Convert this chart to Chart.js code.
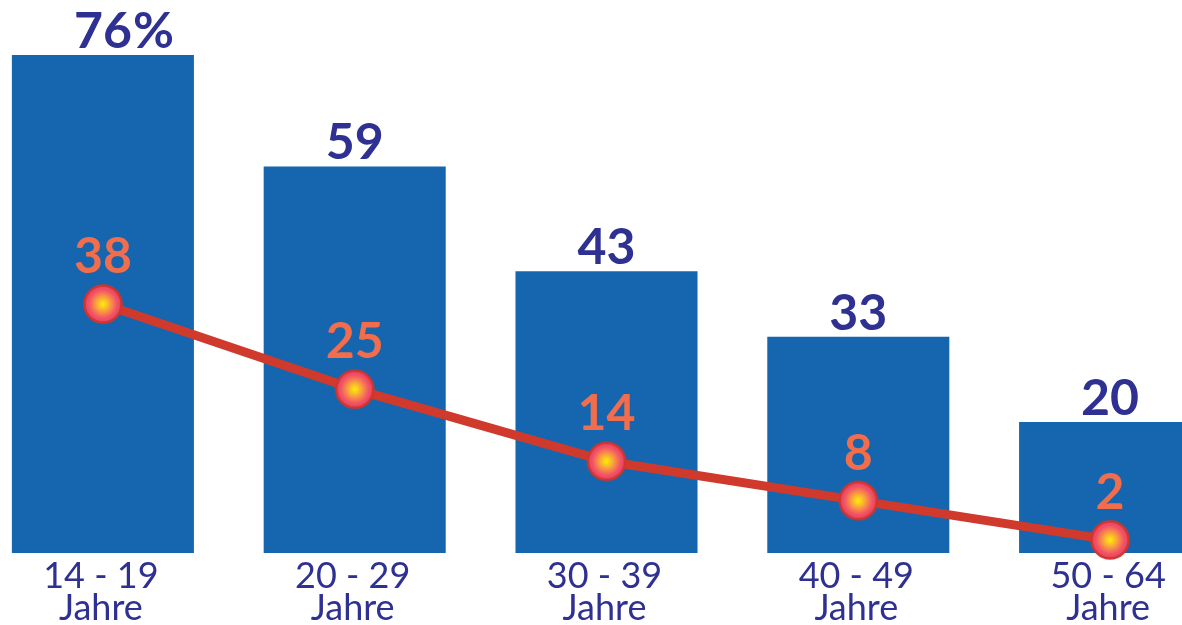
<!DOCTYPE html>
<html lang="de">
<head>
  <meta charset="UTF-8">
  <title>Altersgruppen</title>
  <script src="https://cdn.jsdelivr.net/npm/chart.js"></script>
  <style>
    html, body {
      margin: 0;
      padding: 0;
      background: #ffffff;
    }
    .frame {
      position: relative;
      width: 1182px;
      height: 625px;
      overflow: hidden;
    }
    .chart-box {
      position: absolute;
      left: -23px;
      top: 0;
      width: 1259px;
      height: 625px;
    }
  </style>
</head>
<body>

<div class="frame">
  <div class="chart-box">
    <canvas id="ageChart"></canvas>
  </div>
</div>

<script>
  // data
  const categories = ['14 - 19', '20 - 29', '30 - 39', '40 - 49', '50 - 64'];
  const unitLabel = 'Jahre';
  const barValues = [76, 59, 43, 33, 20];
  const lineValues = [38, 25, 14, 8, 2];

  const NAVY = '#2e3192';
  const ORANGE = '#f26d4b';
  const BAR_BLUE = '#1566ae';
  const LINE_RED = '#cf3a2d';

  // round glowing marker used as point style
  function makeMarker() {
    const c = document.createElement('canvas');
    c.width = 44;
    c.height = 44;
    const g = c.getContext('2d');
    const grad = g.createRadialGradient(22, 22, 0, 22, 22, 19);
    grad.addColorStop(0, '#fff200');
    grad.addColorStop(0.3, '#fbb034');
    grad.addColorStop(0.75, '#f2506a');
    grad.addColorStop(1, '#e8435a');
    g.beginPath();
    g.arc(22, 22, 18.5, 0, Math.PI * 2);
    g.fillStyle = grad;
    g.fill();
    g.lineWidth = 2.5;
    g.strokeStyle = '#d2352d';
    g.stroke();
    return c;
  }

  const valueLabels = {
    id: 'valueLabels',
    afterDatasetsDraw(chart) {
      const ctx = chart.ctx;
      ctx.save();
      ctx.textAlign = 'center';
      ctx.textBaseline = 'alphabetic';
      ctx.font = 'bold 50px Lato';

      // bar values (first one carries the % sign after the centred number)
      ctx.fillStyle = NAVY;
      chart.getDatasetMeta(1).data.forEach((bar, i) => {
        const txt = String(barValues[i]);
        ctx.textAlign = 'center';
        ctx.fillText(txt, bar.x, bar.y - 7);
        if (i === 0) {
          const w = ctx.measureText(txt).width;
          ctx.textAlign = 'left';
          ctx.fillText('%', bar.x + w / 2 + 1, bar.y - 7);
        }
      });

      // line values
      ctx.textAlign = 'center';
      ctx.fillStyle = ORANGE;
      chart.getDatasetMeta(0).data.forEach((pt, i) => {
        ctx.fillText(String(lineValues[i]), pt.x, pt.y - 31);
      });

      // category labels under the bars
      const xs = chart.scales.x;
      ctx.fillStyle = NAVY;
      ctx.font = '36px Lato';
      categories.forEach((cat, i) => {
        const x = xs.getPixelForTick(i);
        ctx.fillText(cat, x - 2, 588);
        ctx.fillText(unitLabel, x - 2, 620);
      });
      ctx.restore();
    }
  };

  document.addEventListener('DOMContentLoaded', function () {
    const ctx = document.getElementById('ageChart').getContext('2d');
    new Chart(ctx, {
      data: {
        labels: categories,
        datasets: [
          {
            type: 'line',
            data: lineValues,
            borderColor: LINE_RED,
            borderWidth: 9,
            pointStyle: makeMarker(),
            pointRadius: 19,
            tension: 0,
            clip: false,
            order: 0
          },
          {
            type: 'bar',
            data: barValues,
            backgroundColor: BAR_BLUE,
            borderWidth: 0,
            categoryPercentage: 1,
            barPercentage: 0.723,
            order: 1
          }
        ]
      },
      options: {
        responsive: true,
        maintainAspectRatio: false,
        animation: false,
        layout: {
          autoPadding: false,
          padding: { left: 0, right: 0, top: 0, bottom: 72 }
        },
        plugins: {
          legend: { display: false },
          tooltip: { enabled: false }
        },
        scales: {
          x: {
            display: false,
            offset: true
          },
          y: {
            display: false,
            min: 0,
            max: 84.4
          }
        }
      },
      plugins: [valueLabels]
    });
  });
</script>

</body>
</html>
